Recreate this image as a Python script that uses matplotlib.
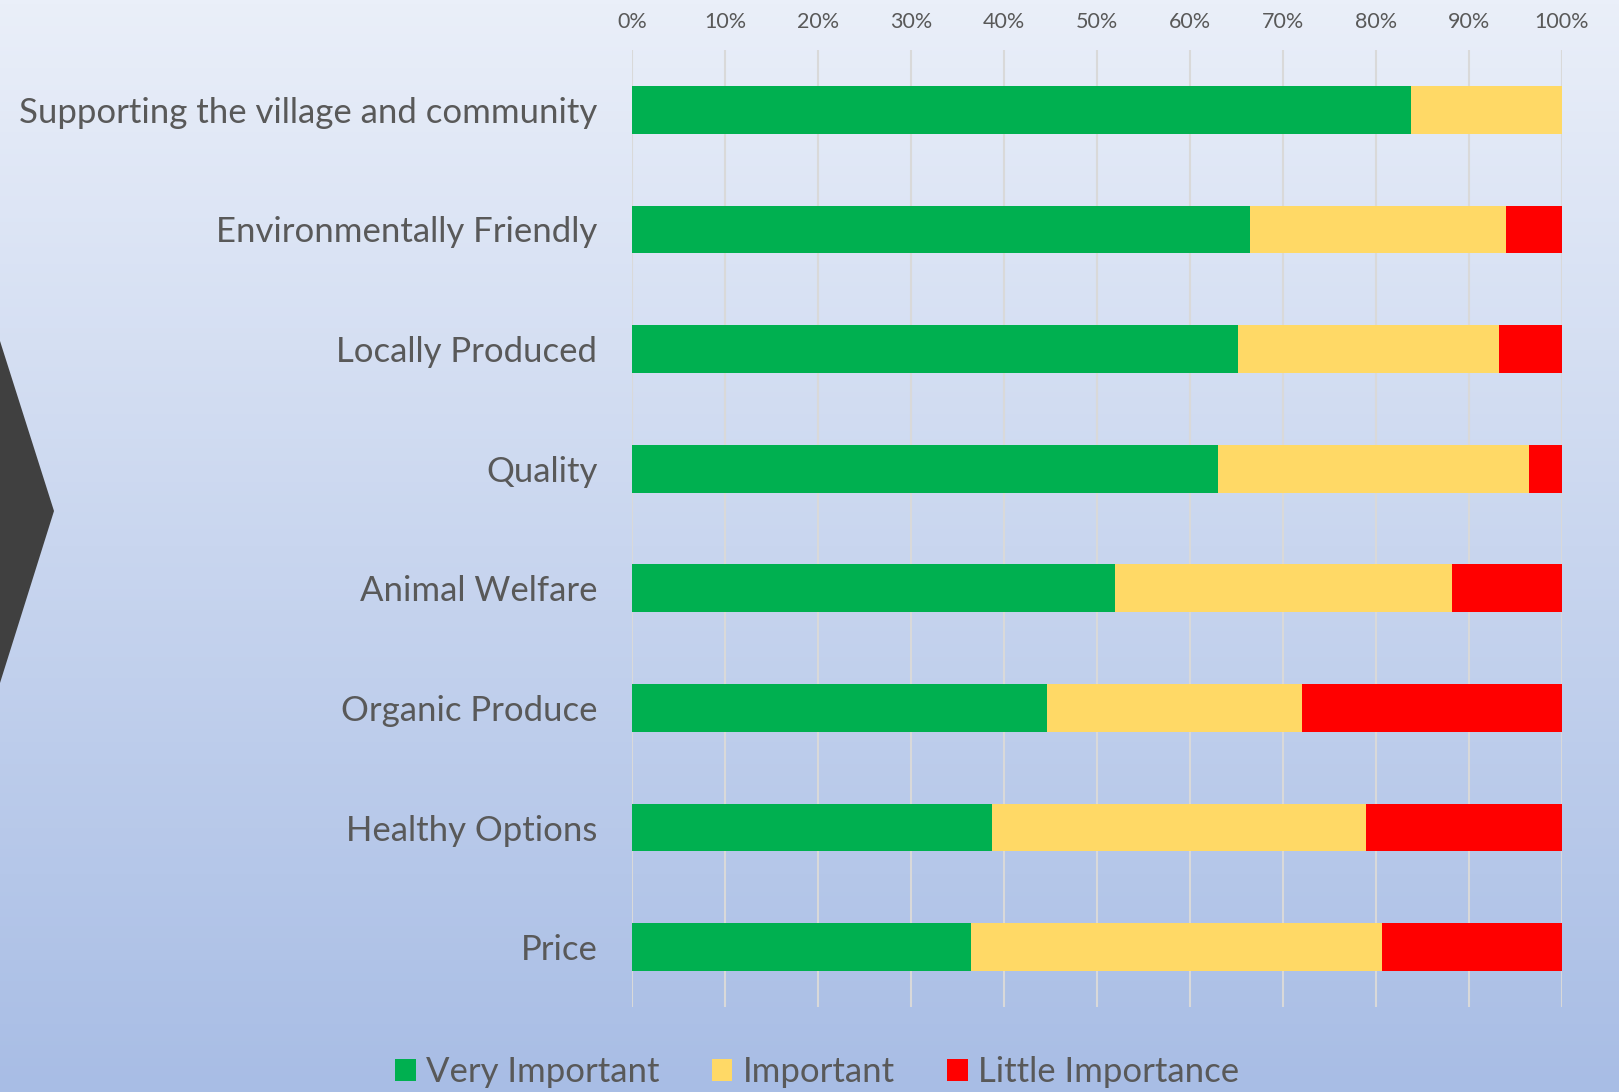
import numpy as np
import matplotlib
matplotlib.use("Agg")
import matplotlib.pyplot as plt
from matplotlib.patches import Polygon, Patch

# === Données ===
categories = ["Supporting the village and community", "Environmentally Friendly",
              "Locally Produced", "Quality", "Animal Welfare", "Organic Produce",
              "Healthy Options", "Price"]
very_important = [83.8, 66.4, 65.2, 63.0, 51.9, 44.6, 38.7, 36.4]
important = [16.2, 27.6, 28.0, 33.4, 36.3, 27.4, 40.2, 44.2]
little_importance = [0.0, 6.0, 6.8, 3.6, 11.8, 28.0, 21.1, 19.4]
series_names = ["Very Important", "Important", "Little Importance"]
tick_labels = ["0%", "10%", "20%", "30%", "40%", "50%", "60%", "70%", "80%", "90%", "100%"]

colors = ["#00B050", "#FFD966", "#FF0000"]
txt_color = "#595959"
font = "Lato"

W, H = 1619, 1092
fig = plt.figure(figsize=(W / 100, H / 100), dpi=100)

# === Fond dégradé ===
bg = fig.add_axes([0, 0, 1, 1])
top_c = np.array([234, 239, 249]) / 255
bot_c = np.array([168, 189, 229]) / 255
t = np.linspace(0, 1, 256)[:, None]
grad = top_c[None, :] * (1 - t) + bot_c[None, :] * t
bg.imshow(grad[:, None, :], aspect="auto", extent=[0, W, H, 0])
# chevron gris foncé à gauche
bg.add_patch(Polygon([(0, 341), (54, 511), (0, 683)], closed=True,
                     facecolor="#404040", edgecolor="none"))
bg.set_xlim(0, W)
bg.set_ylim(H, 0)
bg.axis("off")

# === Graphique ===
ax = fig.add_axes([632 / W, 1 - 1007 / H, 930 / W, 957 / H])
ax.patch.set_alpha(0)
y = np.arange(len(categories))
left = np.zeros(len(categories))
for vals, col, name in zip([very_important, important, little_importance], colors, series_names):
    ax.barh(y, vals, left=left, height=0.4, color=col, label=name, zorder=3)
    left += np.array(vals)

ax.set_xlim(0, 100)
ax.set_ylim(len(categories) - 0.5, -0.5)
ax.set_xticks(np.arange(0, 101, 10))
ax.set_xticklabels(tick_labels, fontsize=15.5, color=txt_color, family=font)
ax.xaxis.tick_top()
ax.tick_params(axis="x", length=0, pad=13)
ax.set_yticks(y)
ax.set_yticklabels(categories, fontsize=25, color=txt_color, family=font)
ax.tick_params(axis="y", length=0, pad=25)
ax.grid(axis="x", color="#D9D9D9", linewidth=1.5, zorder=0)
for s in ax.spines.values():
    s.set_visible(False)

handles = [Patch(facecolor=c, label=n) for c, n in zip(colors, series_names)]
fig.legend(handles=handles, loc="center", bbox_to_anchor=(817 / W, 1 - 1072 / H), ncol=3,
           frameon=False, prop={"family": font, "size": 25}, labelcolor=txt_color,
           handlelength=0.6, handleheight=0.6, handletextpad=0.3, columnspacing=1.5)

fig.savefig("out.png", dpi=100)
